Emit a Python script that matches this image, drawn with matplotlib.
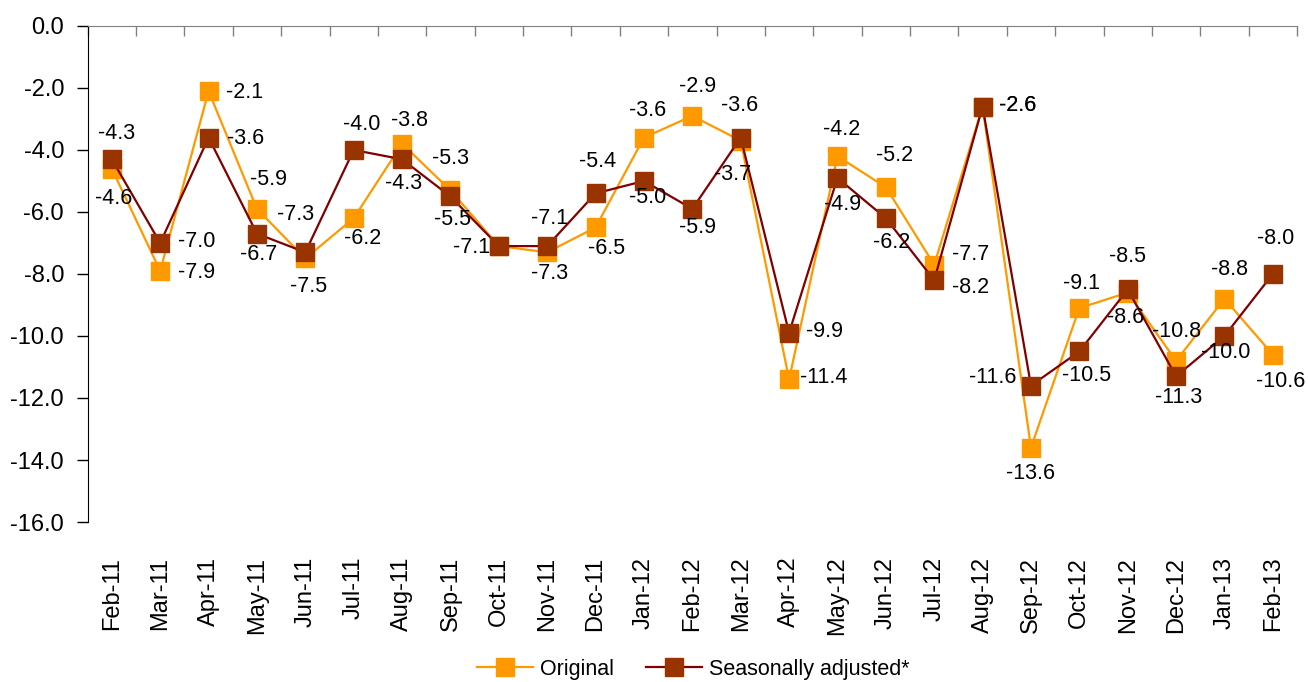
import matplotlib
matplotlib.use("Agg")
import matplotlib.pyplot as plt
import numpy as np

plt.rcParams['font.family'] = ['Liberation Sans', 'DejaVu Sans']

months = ["Feb-11", "Mar-11", "Apr-11", "May-11", "Jun-11", "Jul-11", "Aug-11",
          "Sep-11", "Oct-11", "Nov-11", "Dec-11", "Jan-12", "Feb-12", "Mar-12",
          "Apr-12", "May-12", "Jun-12", "Jul-12", "Aug-12", "Sep-12", "Oct-12",
          "Nov-12", "Dec-12", "Jan-13", "Feb-13"]
original = [-4.6, -7.9, -2.1, -5.9, -7.5, -6.2, -3.8, -5.3, -7.1, -7.3, -6.5,
            -3.6, -2.9, -3.7, -11.4, -4.2, -5.2, -7.7, -2.6, -13.6, -9.1, -8.6,
            -10.8, -8.8, -10.6]
seasonal = [-4.3, -7.0, -3.6, -6.7, -7.3, -4.0, -4.3, -5.5, -7.1, -7.1, -5.4,
            -5.0, -5.9, -3.6, -9.9, -4.9, -6.2, -8.2, -2.6, -11.6, -10.5, -8.5,
            -11.3, -10.0, -8.0]
series_names = ["Original", "Seasonally adjusted*"]

# label offsets in pixels (dx, dy up-positive); None = label hidden
orig_off = [(2, -30), (36, -2), (36, -1), (12, 29), (3, -28), (9, -20), (7, 23),
            (0, 32), None, (2, -21), (11, -21), (4, 27), (5, 29), (-8, -34),
            (35, 2), (4, 27), (9, 32), (36, 10), (35, 1), (0, -26), (2, 25),
            (-2, -25), (0, 29), (5, 29), (8, -27)]
sa_off = [(5, 26), (36, 1), (37, -1), (2, -21), (-10, 38), (8, 25), (1, -24),
          (2, -23), (-27, -1), (2, 28), (2, 32), (4, -17), (5, -19), (-1, 32),
          (35, 1), (5, -27), (6, -24), (36, -7), (35, 1), (-38, 8), (7, -24),
          (0, 33), (3, -21), (1, -17), (3, 35)]

fig = plt.figure(figsize=(13.08, 6.82), dpi=100)
ax = fig.add_axes([0.067, 0.2346, 0.9246, 0.7273])

x = np.arange(len(months))
ax.plot(x, original, color="#FF9900", lw=1.6, marker="s", ms=13,
        markerfacecolor="#FF9900", markeredgecolor="#FF9900", label=series_names[0], zorder=3)
ax.plot(x, seasonal, color="#800000", lw=1.6, marker="s", ms=13,
        markerfacecolor="#993300", markeredgecolor="#993300", label=series_names[1], zorder=4)

for vals, offs in ((original, orig_off), (seasonal, sa_off)):
    for xi, v, off in zip(x, vals, offs):
        if off is None:
            continue
        ax.annotate(f"{v:.1f}", (xi, v), xytext=off, textcoords="offset pixels",
                    ha="center", va="center", fontsize=15.5, zorder=5)

ax.set_xlim(-0.5, len(months) - 0.5)
ax.set_ylim(-16, 0)
yt = np.arange(-16, 0.1, 2)
ax.set_yticks(yt)
ax.set_yticklabels([f"{t:.1f}" for t in yt], fontsize=17)
ax.tick_params(axis='y', direction='out', length=8, width=1, pad=9)

ax.set_xticks(x)
ax.set_xticklabels(months, rotation=90, fontsize=17)
ax.tick_params(axis='x', which='major', length=0, pad=25, bottom=True, top=False)
ax.set_xticks(np.arange(-0.5, len(months)), minor=True)
ax.tick_params(axis='x', which='minor', top=True, bottom=False, direction='in',
               length=7, width=1, color="#808080")

ax.spines['bottom'].set_visible(False)
ax.spines['right'].set_visible(False)
ax.spines['top'].set_color("#808080")
ax.spines['left'].set_color("black")

fig.legend(loc="center", bbox_to_anchor=(0.53, 0.019), ncol=2, frameon=False,
           fontsize=15.5, handlelength=2.6, columnspacing=1.5, handletextpad=0.3)

fig.savefig("out.png", dpi=100)
